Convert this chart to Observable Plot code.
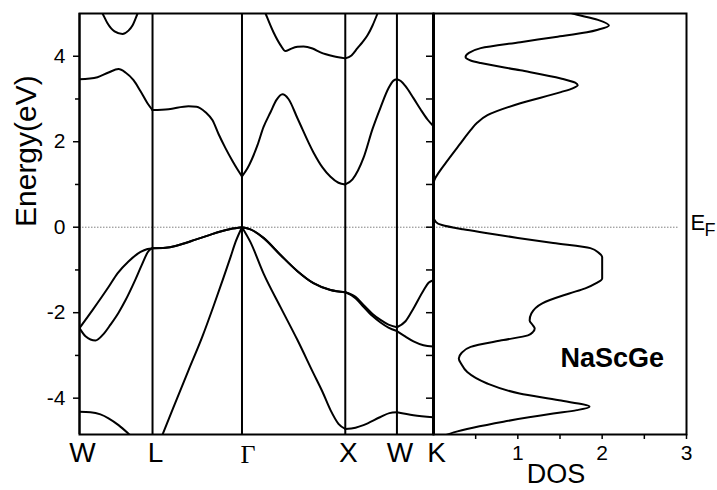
<!DOCTYPE html>
<html><head><meta charset="utf-8">
<script src="https://cdn.jsdelivr.net/npm/d3@7"></script>
<script src="https://cdn.jsdelivr.net/npm/@observablehq/plot@0.6"></script>
<style>
body{margin:0;background:#fff}
#chart{position:relative;width:717px;height:490px;overflow:hidden;background:#fff}
#chart svg{position:absolute;left:0;top:0}
</style></head><body><div id="chart"></div>
<script>
// ---- data ----
const kLabels = ["W","L","Γ","X","W","K"];
const kPositions = [0, 0.707, 1.573, 2.573, 3.073, 3.427];
const energyTicks = [-4,-2,0,2,4];
const energyMinorTicks = [-3,-1,1,3];
const dosEnergyTicks = [-4,-3,-2,-1,0,1,2,3,4];
const dosTicks = [1,2,3];
const dosMinorTicks = [0.5,1.5,2.5];
const fermiEnergy = 0;
const compound = "NaScGe";
const energyLabel = "Energy(eV)";
const dosLabel = "DOS";

// bands as [k, E(eV)]
const bandA = [[0,-4.32],[0.106,-4.33],[0.203,-4.38],[0.281,-4.47],[0.378,-4.63],[0.474,-4.83],[0.591,-5.1],[0.707,-5.35]];
const bandB = [[0.707,-5.45],[0.804,-4.85],[0.929,-4.1],[1.055,-3.35],[1.191,-2.55],[1.297,-1.85],[1.384,-1.25],[1.462,-0.70],[1.510,-0.35],[1.573,0],
  [1.655,-0.35],[1.781,-1.08],[1.946,-1.87],[2.110,-2.64],[2.265,-3.42],[2.352,-3.85],[2.430,-4.28],[2.507,-4.6],[2.573,-4.72],
  [2.672,-4.69],[2.749,-4.63],[2.914,-4.44],[3.0,-4.35],[3.073,-4.33],[3.233,-4.40],[3.427,-4.45]];
const bandC = [[0,-2.36],[0.126,-1.94],[0.281,-1.40],[0.368,-1.08],[0.474,-0.80],[0.591,-0.58],[0.658,-0.51],[0.707,-0.49],
  [0.833,-0.48],[0.929,-0.44],[1.026,-0.37],[1.123,-0.29],[1.249,-0.19],[1.365,-0.10],[1.462,-0.04],[1.573,0],
  [1.655,-0.05],[1.781,-0.25],[1.946,-0.65],[2.110,-1.03],[2.265,-1.31],[2.430,-1.47],[2.573,-1.52],
  [2.672,-1.63],[2.749,-1.82],[2.837,-2.03],[2.914,-2.17],[2.991,-2.28],[3.073,-2.34],
  [3.156,-2.2],[3.233,-1.9],[3.330,-1.48],[3.379,-1.3],[3.427,-1.24]];
const bandD = [[0,-2.36],[0.058,-2.55],[0.155,-2.65],[0.232,-2.5],[0.300,-2.28],[0.378,-2.0],[0.445,-1.71],[0.542,-1.22],[0.600,-0.9],[0.668,-0.56],[0.707,-0.49],
  [0.833,-0.48],[0.929,-0.44],[1.026,-0.37],[1.123,-0.29],[1.249,-0.19],[1.365,-0.10],[1.462,-0.04],[1.573,0],
  [1.655,-0.05],[1.781,-0.25],[1.946,-0.65],[2.110,-1.03],[2.265,-1.31],[2.430,-1.47],[2.573,-1.52],
  [2.672,-1.66],[2.749,-1.86],[2.837,-2.08],[2.914,-2.23],[2.991,-2.35],[3.073,-2.43],
  [3.156,-2.56],[3.233,-2.67],[3.330,-2.76],[3.427,-2.79]];
const bandE = [[0,3.46],[0.174,3.51],[0.281,3.62],[0.378,3.70],[0.445,3.62],[0.523,3.44],[0.591,3.18],[0.658,2.9],[0.707,2.74],
  [0.862,2.76],[1.055,2.83],[1.133,2.82],[1.220,2.69],[1.288,2.5],[1.346,2.18],[1.413,1.85],[1.481,1.55],[1.530,1.35],[1.573,1.19],
  [1.626,1.38],[1.723,1.92],[1.781,2.34],[1.849,2.69],[1.907,2.98],[1.965,3.11],[2.023,3.0],[2.110,2.55],[2.265,1.75],[2.352,1.4],[2.430,1.18],[2.507,1.04],[2.573,1.0],
  [2.643,1.12],[2.749,1.62],[2.837,2.3],[2.914,2.8],[2.991,3.25],[3.040,3.43],[3.073,3.46],
  [3.110,3.42],[3.156,3.3],[3.233,3.02],[3.301,2.76],[3.369,2.52],[3.427,2.36]];
const bandF = [[0,6.4],[0.106,5.45],[0.223,5.0],[0.271,4.77],[0.339,4.58],[0.416,4.52],[0.474,4.6],[0.513,4.72],[0.562,5.0],[0.639,5.45],[0.707,5.8]];
const bandG = [[1.704,5.6],[1.801,5.0],[1.878,4.56],[1.946,4.26],[1.994,4.12],[2.043,4.17],[2.110,4.22],[2.169,4.23],[2.256,4.18],[2.333,4.09],[2.459,4.0],[2.573,3.95],
  [2.633,4.02],[2.691,4.19],[2.740,4.33],[2.788,4.49],[2.837,4.72],[2.885,5.0],[2.962,5.5]];

// DOS as [E(eV), DOS]
const dosCurve = [[5.1,1.5],[5.0,1.65],[4.85,1.95],[4.72,2.08],[4.62,1.95],[4.56,1.82],[4.45,1.45],[4.33,1.03],[4.19,0.56],[4.08,0.42],[3.98,0.38],
  [3.90,0.44],[3.84,0.56],[3.67,1.03],[3.48,1.51],[3.38,1.68],[3.32,1.71],[3.25,1.65],[3.16,1.51],[2.90,1.03],[2.62,0.64],[2.45,0.52],
  [2.27,0.44],[1.96,0.32],[1.57,0.17],[1.30,0.07],[1.10,0.01],[1.0,0],[0.25,0],[0.12,0.03],[0.05,0.1],[-0.05,0.35],[-0.14,0.64],
  [-0.25,1.0],[-0.37,1.42],[-0.49,1.86],[-0.60,1.96],[-0.70,2.0],[-1.20,2.0],[-1.31,1.93],[-1.43,1.8],[-1.55,1.61],[-1.78,1.29],
  [-2.02,1.16],[-2.18,1.14],[-2.30,1.18],[-2.37,1.2],[-2.45,1.18],[-2.53,1.12],[-2.64,0.83],[-2.80,0.44],[-2.95,0.33],[-3.07,0.30],
  [-3.20,0.33],[-3.39,0.40],[-3.65,0.63],[-3.89,1.02],[-4.05,1.49],[-4.20,1.85],[-4.28,1.7],[-4.36,1.42],[-4.55,0.83],[-4.80,0.24],[-4.9,0.1]];

// ---- build ----
const inner = kPositions.slice(1, -1);
function toSegments(name, pts) {
  const out = []; let seg = 0;
  pts.forEach(([k, e], i) => {
    out.push({id: name + seg, k, e});
    if (i > 0 && i < pts.length - 1 && inner.some(p => Math.abs(p - k) < 1e-6)) {
      seg++; out.push({id: name + seg, k, e});
    }
  });
  return out;
}
const bandData = [
  ...toSegments("A", bandA), ...toSegments("B", bandB), ...toSegments("C", bandC),
  ...toSegments("D", bandD), ...toSegments("E", bandE), ...toSegments("F", bandF), ...toSegments("G", bandG)
];
const dosData = dosCurve.map(([e, d]) => ({e, d})).sort((a, b) => a.e - b.e);

const W = 717, H = 490, mTop = 13, mBottom = 56;
const eDomain = [-4.85, 5.0];
const font = "'Liberation Sans', Arial, Helvetica, sans-serif";
const style = {fontFamily: font, background: "transparent", color: "#000", overflow: "visible"};
const sansIdx = kLabels.map((l, i) => i).filter(i => kLabels[i] !== "Γ");
const gammaIdx = kLabels.map((l, i) => i).filter(i => kLabels[i] === "Γ");

const bandPlot = Plot.plot({
  width: W, height: H, marginLeft: 79, marginRight: 284, marginTop: mTop, marginBottom: mBottom,
  style,
  x: {domain: [0, kPositions[kPositions.length - 1]], axis: null},
  y: {domain: eDomain},
  marks: [
    Plot.ruleY([fermiEnergy], {stroke: "#808080", strokeDasharray: "1.5,1.5", strokeWidth: 1}),
    Plot.ruleX(kPositions, {stroke: "#000", strokeWidth: 2}),
    Plot.line(bandData, {x: "k", y: "e", z: "id", curve: "monotone-x", stroke: "#000", strokeWidth: 2, clip: true}),
    Plot.frame({stroke: "#000", strokeWidth: 2}),
    Plot.axisY(energyTicks, {tickSize: 6, tickPadding: 8, fontSize: 21, tickFormat: d => String(d), label: null, strokeWidth: 1.5}),
    Plot.axisY(energyMinorTicks, {tickSize: 4, tickFormat: () => "", label: null, strokeWidth: 1.5}),
    Plot.text(sansIdx, {x: i => kPositions[i], text: i => kLabels[i], frameAnchor: "bottom", lineAnchor: "bottom", dy: 27, dx: 3, fontSize: 28}),
    Plot.text(gammaIdx, {x: i => kPositions[i], text: i => kLabels[i], frameAnchor: "bottom", lineAnchor: "bottom", dy: 28, dx: 6, fontSize: 26, fontFamily: "'Liberation Serif', 'Times New Roman', serif"}),
    Plot.text([energyLabel], {frameAnchor: "left", rotate: -90, dx: -44, dy: 3, lineAnchor: "bottom", fontSize: 30})
  ]
});

const dosPlot = Plot.plot({
  width: W, height: H, marginLeft: 433, marginRight: 31, marginTop: mTop, marginBottom: mBottom,
  style,
  x: {domain: [0, 3]},
  y: {domain: eDomain},
  marks: [
    Plot.ruleY([fermiEnergy], {x1: 0, x2: 2.9, stroke: "#808080", strokeDasharray: "1.5,1.5", strokeWidth: 1}),
    Plot.line(dosData, {x: "d", y: "e", curve: "monotone-y", stroke: "#000", strokeWidth: 2, clip: true}),
    Plot.frame({stroke: "#000", strokeWidth: 2}),
    Plot.ruleX([0], {stroke: "#000", strokeWidth: 3}),
    Plot.axisX(dosTicks, {tickSize: 5, tickPadding: 6, fontSize: 21, label: null, strokeWidth: 1.5}),
    Plot.axisX(dosMinorTicks, {tickSize: 5, tickFormat: () => "", label: null, strokeWidth: 1.5}),
    Plot.axisY(dosEnergyTicks, {tickSize: 7, tickFormat: () => "", label: null, strokeWidth: 1.5}),
    Plot.text([compound], {x: () => 2.12, y: () => -3.06, fontSize: 27, fontWeight: "bold"}),
    Plot.text([dosLabel], {frameAnchor: "bottom", lineAnchor: "bottom", dy: 48, dx: -4, fontSize: 27}),
    Plot.text(["E"], {x: () => 3, y: () => fermiEnergy, dx: 4, dy: 3, textAnchor: "start", lineAnchor: "bottom", fontSize: 22}),
    Plot.text(["F"], {x: () => 3, y: () => fermiEnergy, dx: 18, dy: 9, textAnchor: "start", lineAnchor: "bottom", fontSize: 18})
  ]
});

const chart = document.getElementById("chart");
chart.appendChild(bandPlot);
chart.appendChild(dosPlot);
</script>
</body></html>
